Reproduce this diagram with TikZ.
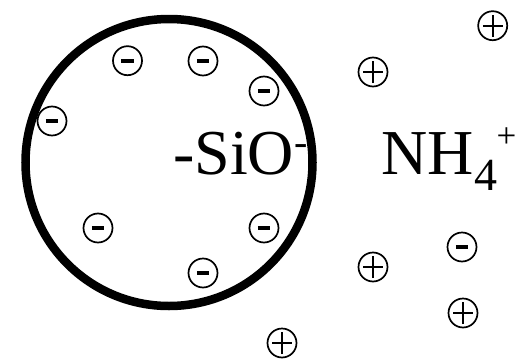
\documentclass[tikz,border=0pt]{standalone}
\usepackage{fontspec}
\setmainfont{Liberation Serif}
\begin{document}
\begin{tikzpicture}[x=1pt,y=-1pt,
  ionbase/.style={circle, draw, line width=1.7pt, minimum size=29pt, inner sep=0pt, fill=white},
  negcharge/.style={ionbase, path picture={
      \draw[line width=3.6pt] ([xshift=-6.2pt]path picture bounding box.center) -- ([xshift=6.2pt]path picture bounding box.center);}},
  poscharge/.style={ionbase, path picture={
      \draw[line width=2.3pt] ([xshift=-9.8pt]path picture bounding box.center) -- ([xshift=9.8pt]path picture bounding box.center);
      \draw[line width=2.3pt] ([yshift=-11pt]path picture bounding box.center) -- ([yshift=11pt]path picture bounding box.center);}},
  bigtext/.style={anchor=base west, inner sep=0pt, font=\fontsize{64}{64}\selectfont}
]
\useasboundingbox (0,0) rectangle (517,359);
% particle
\draw[line width=8.5pt] (169,162.5) circle[radius=143.5];
% labels
\node[bigtext] (sio) at (173,174) {-SiO\raisebox{19pt}{\fontsize{40}{40}\selectfont -}};
\node[bigtext] (nh) at (381,174) {NH\kern1pt\raisebox{-16pt}{\fontsize{46}{46}\selectfont 4}\kern-1pt\raisebox{27pt}{\fontsize{35}{35}\selectfont +}};
% negative charges
\node[negcharge] (m1) at (127.5,60.7) {};
\node[negcharge] (m2) at (203,61) {};
\node[negcharge] (m3) at (264,91) {};
\node[negcharge] (m4) at (52,121) {};
\node[negcharge] (m5) at (98,228) {};
\node[negcharge] (m6) at (264,228) {};
\node[negcharge] (m7) at (203,273) {};
\node[negcharge] (m8) at (462,247) {};
% positive charges
\node[poscharge] (p1) at (492.7,25.7) {};
\node[poscharge] (p2) at (373,72) {};
\node[poscharge] (p3) at (373,267) {};
\node[poscharge] (p4) at (463,313) {};
\node[poscharge] (p5) at (282,343) {};
\end{tikzpicture}
\end{document}
